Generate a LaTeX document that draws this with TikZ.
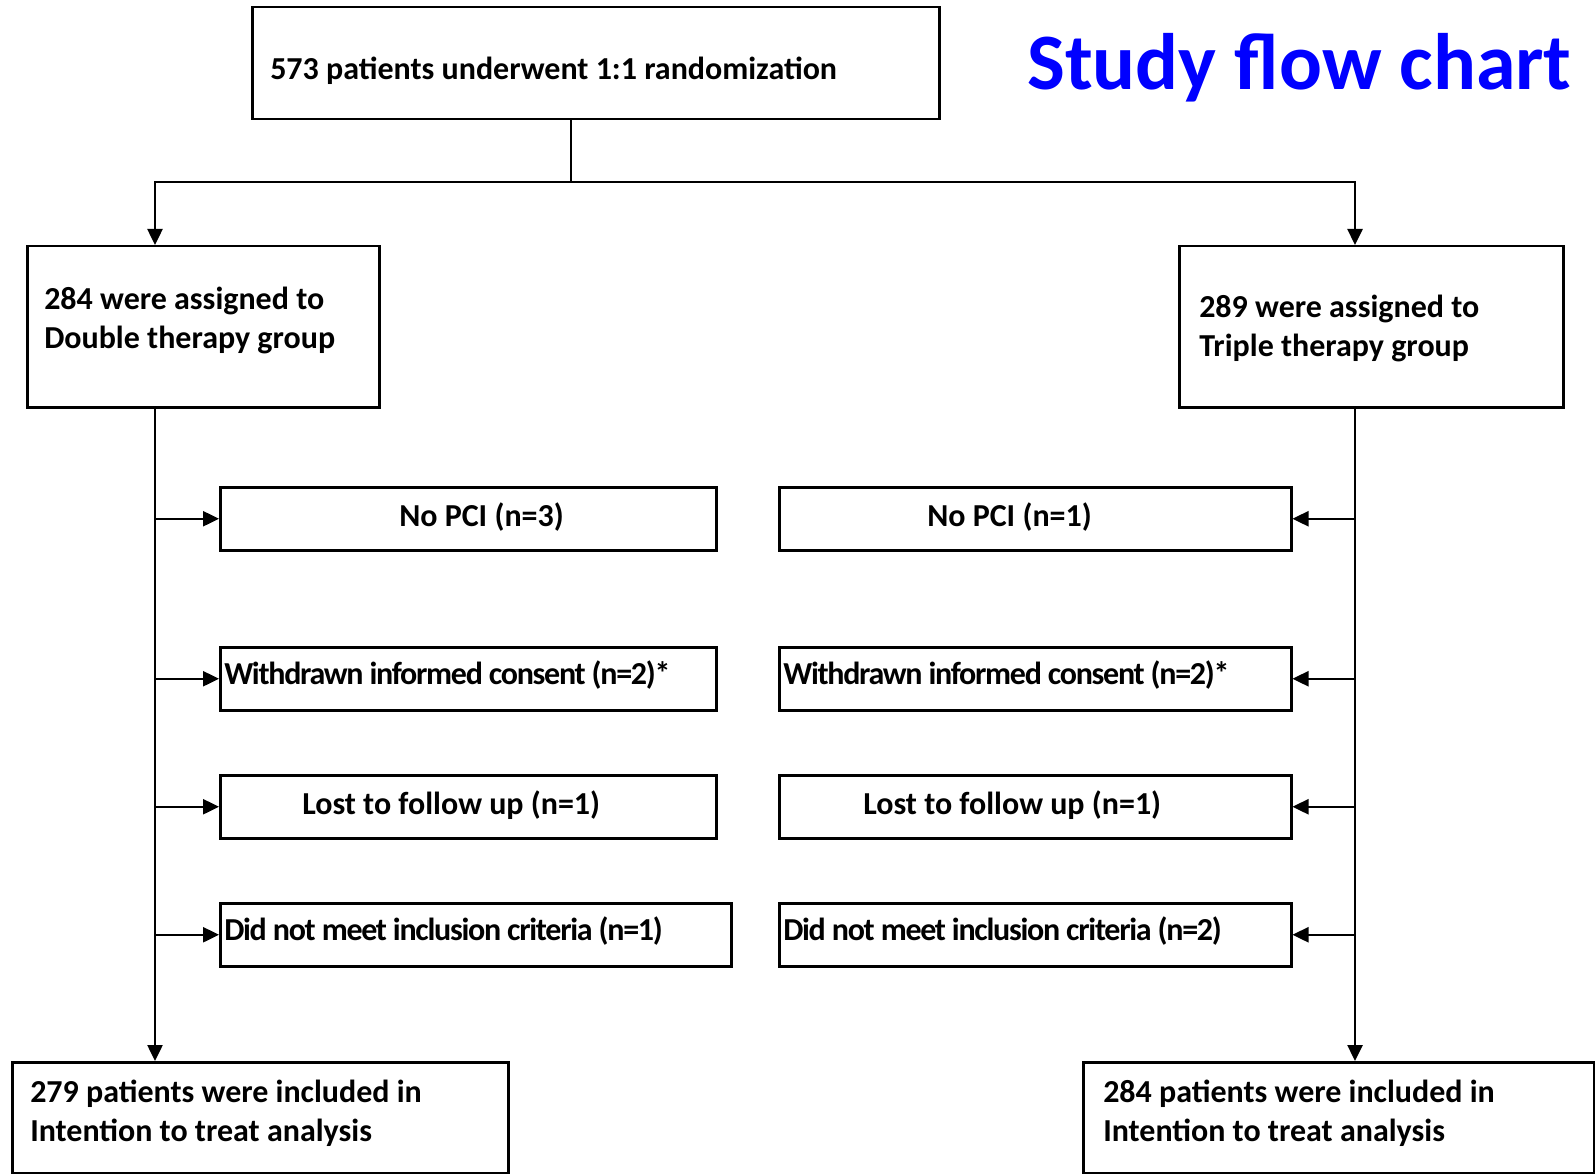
\documentclass[tikz,border=0pt]{standalone}
\usepackage{fontspec}
\setmainfont{Carlito}
\newfontfamily\tightfont{Carlito}[LetterSpace=-4.0]
\usetikzlibrary{arrows.meta}
\definecolor{titleblue}{RGB}{0,0,255}
\tikzset{
  box/.style={draw, line width=2.5pt, anchor=north west, inner ysep=0pt, align=left,
    font=\bfseries\fontsize{32}{39}\selectfont,
    execute at begin node={\spaceskip=0pt\xspaceskip=0pt\relax}},
  exbox/.style={box, inner xsep=4pt},
  tight/.style={font=\tightfont\bfseries\fontsize{32}{39}\selectfont},
  arr/.style={line width=2.5pt, -{Triangle[length=16pt,width=15pt]}},
}

\begin{document}
\begin{tikzpicture}[x=1pt, y=-1pt]
\useasboundingbox (0,0) rectangle (1595,1174);

\node[font=\bfseries\fontsize{80}{96}\selectfont, text=titleblue, anchor=base west, inner sep=0pt] (title) at (1027,90) {Study flow chart};

\node[box, inner xsep=18pt, text width=651pt, text height=72pt, text depth=40pt] (rand) at (251,6) {573 patients underwent 1:1 randomization};

\node[box, inner xsep=17pt, text width=318pt, text height=63.5pt, text depth=97.5pt] (dbl) at (26,245) {284 were assigned to\\Double therapy group};
\node[box, inner xsep=20pt, text width=344pt, text height=71.7pt, text depth=89.3pt] (tri) at (1178,245) {289 were assigned to\\Triple therapy group};

\node[exbox, text width=488pt, text height=39.2pt, text depth=23.8pt] (nopciL) at (219,486) {\hspace*{175pt}No PCI (n=3)};
\node[exbox, tight, text width=488pt, text height=36.9pt, text depth=26.1pt] (consL) at (219,646) {Withdrawn informed consent (n=2)*};
\node[exbox, text width=488pt, text height=39.1pt, text depth=23.9pt] (lostL) at (219,774) {\hspace*{78pt}Lost to follow up (n=1)};
\node[exbox, tight, text width=503pt, text height=37.2pt, text depth=25.8pt] (critL) at (219,902) {Did not meet inclusion criteria (n=1)};

\node[exbox, text width=504pt, text height=39.2pt, text depth=23.8pt] (nopciR) at (778,486) {\hspace*{144pt}No PCI (n=1)};
\node[exbox, tight, text width=504pt, text height=36.9pt, text depth=26.1pt] (consR) at (778,646) {Withdrawn informed consent (n=2)*};
\node[exbox, text width=504pt, text height=39.1pt, text depth=23.9pt] (lostR) at (778,774) {\hspace*{80pt}Lost to follow up (n=1)};
\node[exbox, tight, text width=504pt, text height=37.2pt, text depth=25.8pt] (critR) at (778,902) {Did not meet inclusion criteria (n=2)};

\node[box, inner xsep=18pt, text width=460pt, text height=40pt, text depth=71pt] (ittL) at (11,1061) {279 patients were included in\\Intention to treat analysis};
\node[box, inner xsep=20pt, text width=471pt, text height=40pt, text depth=71pt] (ittR) at (1082,1061) {284 patients were included in\\Intention to treat analysis};

\coordinate (split) at (571,182);
\coordinate (lx) at (155,0);
\coordinate (rx) at (1355,0);

\draw[line width=2.5pt] (rand.south -| split) -- (split);
\draw[arr] (split) -| (dbl.north -| lx);
\draw[arr] (split) -| (tri.north -| rx);

\draw[arr] (dbl.south -| lx) -- (ittL.north -| lx);
\draw[arr] (tri.south -| rx) -- (ittR.north -| rx);

\foreach \b in {nopciL, consL, lostL, critL}
  \draw[arr] (\b.west -| lx) -- (\b.west);
\foreach \b in {nopciR, consR, lostR, critR}
  \draw[arr] (\b.east -| rx) -- (\b.east);

\end{tikzpicture}
\end{document}
